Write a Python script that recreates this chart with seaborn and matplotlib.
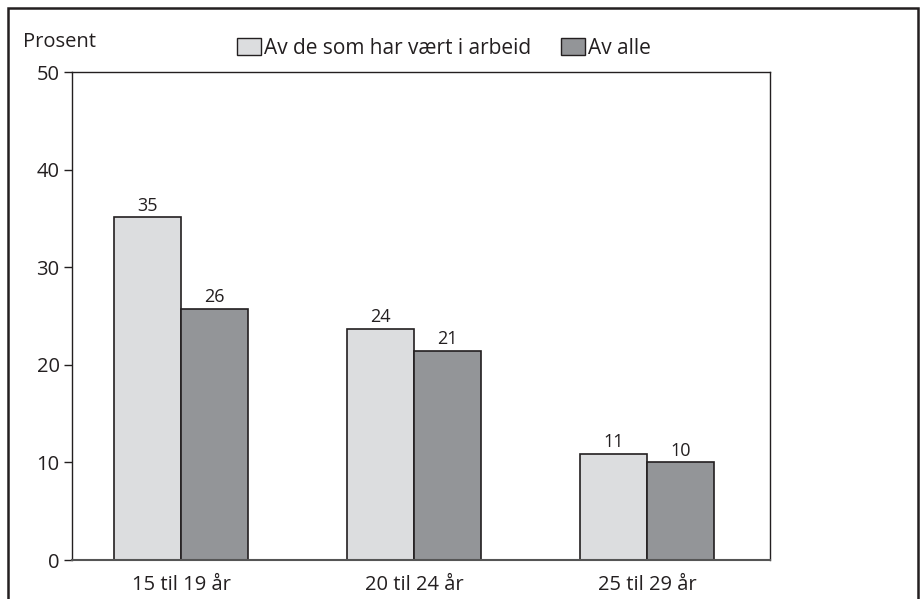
import matplotlib
matplotlib.use("Agg")
import matplotlib.pyplot as plt
from matplotlib.patches import Rectangle, Patch
import seaborn as sns
import pandas as pd

categories = ["15 til 19 år", "20 til 24 år", "25 til 29 år"]
series_names = ["Av de som har vært i arbeid", "Av alle"]
worked = [35.1, 23.7, 10.9]
everyone = [25.7, 21.4, 10.0]
y_ticks = [0, 10, 20, 30, 40, 50]

df = pd.DataFrame({
    "Aldersgruppe": categories * 2,
    "Gruppe": [series_names[0]] * 3 + [series_names[1]] * 3,
    "Prosent": worked + everyone,
})

sns.set_theme(style="white")
plt.rcParams["font.family"] = ["Open Sans", "DejaVu Sans"]
ink = "#231f20"

fig = plt.figure(figsize=(9.24, 5.99), dpi=100)
ax = fig.add_axes([72 / 924, 1 - 560 / 599, (770 - 72) / 924, (560 - 72) / 599])

palette = {series_names[0]: "#dcdddf", series_names[1]: "#939598"}
sns.barplot(data=df, x="Aldersgruppe", y="Prosent", hue="Gruppe",
            palette=palette, width=0.575, saturation=1,
            edgecolor=ink, linewidth=1.2, ax=ax, legend=False)

for container in ax.containers:
    ax.bar_label(container, fmt="%.0f", padding=2, fontsize=13, color=ink)

ax.set_xlim(-0.468, 2.528)
ax.set_ylim(0, 50)
ax.set_yticks(y_ticks)
ax.set_xlabel("")
ax.set_ylabel("")
ax.tick_params(axis="y", which="both", left=True, length=6, width=1,
               color=ink, labelsize=14.5, labelcolor=ink, pad=3)
ax.tick_params(axis="x", bottom=False, labelsize=14.5, labelcolor=ink, pad=5)
for side in ["top", "right", "left"]:
    ax.spines[side].set_color(ink)
    ax.spines[side].set_linewidth(1.0)
ax.spines["bottom"].set_color("#555555")
ax.spines["bottom"].set_linewidth(1.5)

fig.text(23 / 924, 1 - 42 / 599, "Prosent", fontsize=14.5, color=ink,
         va="center", ha="left")

handles = [Patch(facecolor=palette[n], edgecolor=ink, linewidth=1.0) for n in series_names]
fig.legend(handles, series_names, loc="center", bbox_to_anchor=(444 / 924, 1 - 48 / 599),
           ncol=2, frameon=False, fontsize=15, handlelength=1.15, handleheight=0.9,
           handletextpad=0.15, columnspacing=1.4, labelcolor=ink,
           borderpad=0, borderaxespad=0)

fig.patches.append(Rectangle((8 / 924, -0.05), (918 - 8) / 924, 1.05 - 8 / 599,
                             transform=fig.transFigure, fill=False,
                             edgecolor=ink, linewidth=1.8))

fig.savefig("out.png", dpi=100)
